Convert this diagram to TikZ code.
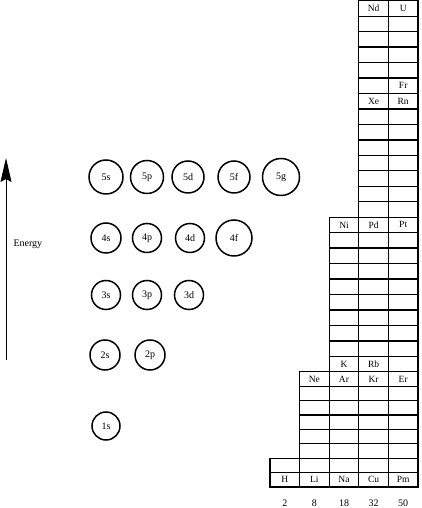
\documentclass[tikz,border=0pt]{standalone}
\usepackage{fontspec}
\setmainfont{Liberation Serif}
\usetikzlibrary{arrows.meta}

\begin{document}
\begin{tikzpicture}[x=1pt,y=1pt,
  orbital/.style={draw,circle,line width=1.5pt,inner sep=0pt,font=\fontsize{10}{11}\selectfont},
  cell/.style={line width=1.3pt},
  elem/.style={inner sep=0pt,font=\fontsize{9.5}{10}\selectfont},
  count/.style={inner sep=0pt,font=\fontsize{10}{11}\selectfont}]
\useasboundingbox (0,0) rectangle (422,508);
% energy axis
\coordinate (elow) at (6,148);
\coordinate (ehigh) at (6,350);
\draw[line width=1pt,-{Stealth[length=24pt,width=11pt,inset=3pt]}] (elow) -- (ehigh);
\node[anchor=west,font=\fontsize{10}{11}\selectfont] (energy) at (10,264) {Energy};
% orbitals
\node[orbital,minimum size=34pt] (o5s) at (106,331) {5s};
\node[orbital,minimum size=33pt] (o5p) at (147,331) {5p};
\node[orbital,minimum size=32pt] (o5d) at (188,331) {5d};
\node[orbital,minimum size=32pt] (o5f) at (234,331) {5f};
\node[orbital,minimum size=37pt] (o5g) at (281,331) {5g};
\node[orbital,minimum size=30pt] (o4s) at (106,270) {4s};
\node[orbital,minimum size=29pt] (o4p) at (147,270) {4p};
\node[orbital,minimum size=29pt] (o4d) at (190,270) {4d};
\node[orbital,minimum size=36pt] (o4f) at (234,270) {4f};
\node[orbital,minimum size=29pt] (o3s) at (106,213) {3s};
\node[orbital,minimum size=29pt] (o3p) at (147,213) {3p};
\node[orbital,minimum size=29pt] (o3d) at (189,213) {3d};
\node[orbital,minimum size=30pt] (o2s) at (105,153) {2s};
\node[orbital,minimum size=30pt] (o2p) at (150,153) {2p};
\node[orbital,minimum size=28pt] (o1s) at (106,82) {1s};
% shells (lower eight rows a bit lower than the rest)
\foreach \c/\n in {0/2,1/8,2/18,3/32,4/32}
  \foreach \r in {1,...,\n}{
    \pgfmathsetmacro\yb{21+14.4*min(\r-1,8)+15.46*max(\r-9,0)}
    \pgfmathsetmacro\yt{21+14.4*min(\r,8)+15.46*max(\r-8,0)}
    \draw[cell] ({270+29.6*\c},\yb) rectangle ({299.6+29.6*\c},\yt);
  }
\foreach \el/\c/\r in {H/0/1,Li/1/1,Na/2/1,Cu/3/1,Pm/4/1,Ne/1/8,Ar/2/8,Kr/3/8,Er/4/8,
    K/2/9,Rb/3/9,Ni/2/18,Pd/3/18,Pt/4/18,Xe/3/26,Rn/4/26,Fr/4/27,Nd/3/32,U/4/32}{
  \pgfmathsetmacro\ym{21+14.4*min(\r-0.5,8)+15.46*max(\r-8.5,0)}
  \node[elem] (el\el) at ({284.8+29.6*\c},\ym) {\el};
}
\foreach \c/\k in {0/2,1/8,2/18,3/32,4/50}
  \node[count] (n\k) at ({284.8+29.6*\c},5) {\k};
\end{tikzpicture}
\end{document}
